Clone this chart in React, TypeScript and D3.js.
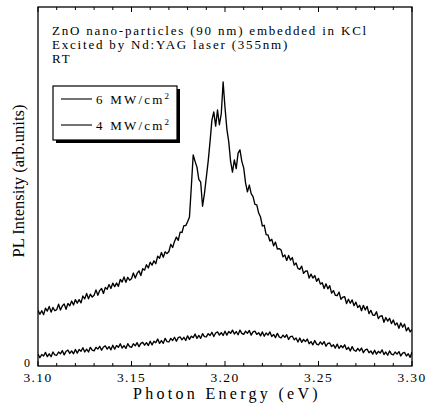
import React from 'react';
import * as d3 from 'd3';

// PL intensity (arb. units) sampled every 0.001 eV from 3.100 eV to 3.300 eV
const E_START = 3.1;
const E_STEP = 0.001;

const pl6MW = [
  15.5, 14.4, 15.4, 14.3, 16.1, 15.3, 16.6, 15.0, 16.3, 15.4,
  15.7, 17.2, 15.6, 16.7, 17.3, 15.8, 17.4, 16.8, 18.1, 17.0,
  18.5, 17.5, 18.5, 17.6, 19.5, 18.7, 20.2, 18.7, 20.0, 19.2,
  19.7, 21.2, 19.7, 21.0, 21.6, 20.2, 21.9, 21.4, 22.7, 21.6,
  23.1, 22.1, 23.1, 22.2, 24.1, 23.4, 24.8, 23.3, 24.7, 23.9,
  24.3, 25.9, 24.5, 25.8, 26.5, 25.2, 27.1, 26.7, 28.2, 27.3,
  28.9, 28.1, 29.3, 28.5, 30.6, 30.0, 31.6, 30.3, 31.8, 31.3,
  31.9, 33.9, 33.0, 34.7, 35.9, 35.0, 37.3, 37.2, 39.1, 39.1,
  40.2, 41.5, 50.0, 58.8, 57.0, 55.4, 52.0, 51.2, 44.5, 48.0,
  52.5, 57.0, 62.5, 68.5, 70.8, 66.8, 71.3, 67.2, 70.2, 79.1,
  72.0, 66.0, 62.5, 57.0, 54.0, 57.4, 55.0, 59.3, 60.2, 57.0,
  55.2, 51.0, 48.5, 50.4, 48.0, 47.2, 45.0, 44.9, 42.6, 41.5,
  39.0, 39.2, 36.6, 36.5, 34.8, 35.3, 33.5, 34.5, 32.6, 32.7,
  32.3, 30.4, 30.9, 29.4, 30.8, 29.5, 30.2, 28.1, 28.7, 27.2,
  26.9, 27.8, 25.8, 26.4, 26.5, 24.5, 25.6, 24.5, 25.2, 23.6,
  24.4, 22.8, 23.2, 21.6, 22.9, 21.5, 22.4, 20.3, 21.0, 19.7,
  19.6, 20.6, 18.6, 19.2, 19.3, 17.4, 18.6, 17.5, 18.4, 16.8,
  17.8, 16.3, 16.9, 15.4, 16.9, 15.6, 16.6, 14.6, 15.5, 14.2,
  14.1, 15.1, 13.2, 13.9, 14.0, 12.2, 13.5, 12.5, 13.3, 11.8,
  12.8, 11.4, 12.0, 10.5, 12.0, 10.8, 11.7, 9.8, 10.7, 9.5, 10.2,
];

const pl4MW = [
  3.3, 2.3, 3.2, 2.8, 3.8, 2.6, 3.4, 2.6, 3.9, 3.1,
  3.0, 3.9, 3.4, 4.3, 3.1, 4.1, 4.4, 3.5, 4.2, 3.4,
  4.6, 3.6, 4.6, 4.1, 5.1, 3.9, 4.7, 3.9, 5.2, 4.4,
  4.2, 5.2, 4.7, 5.5, 4.4, 5.3, 5.6, 4.7, 5.4, 4.5,
  5.8, 4.7, 5.7, 5.2, 6.2, 5.0, 5.7, 4.9, 6.2, 5.4,
  5.2, 6.2, 5.6, 6.5, 5.4, 6.3, 6.6, 5.8, 6.5, 5.7,
  6.9, 5.9, 6.9, 6.5, 7.5, 6.3, 7.1, 6.3, 7.7, 6.8,
  6.7, 7.7, 7.1, 8.0, 6.9, 7.9, 8.1, 7.3, 8.0, 7.1,
  8.4, 7.4, 8.3, 7.9, 8.9, 7.7, 8.5, 7.7, 9.0, 8.2,
  8.1, 9.0, 8.5, 9.4, 8.2, 9.2, 9.5, 8.6, 9.3, 8.5,
  9.7, 8.6, 9.6, 9.1, 10.0, 8.9, 9.6, 8.7, 10.0, 9.1,
  8.8, 9.7, 9.1, 9.9, 8.6, 9.5, 9.7, 8.8, 9.3, 8.4,
  9.5, 8.3, 9.2, 8.6, 9.5, 8.2, 8.8, 7.9, 9.1, 8.1,
  7.8, 8.6, 8.0, 8.7, 7.4, 8.2, 8.3, 7.3, 7.8, 6.7,
  7.8, 6.6, 7.4, 6.8, 7.5, 6.2, 6.8, 5.9, 7.1, 6.1,
  5.9, 6.7, 6.0, 6.8, 5.5, 6.3, 6.4, 5.4, 5.9, 5.0,
  6.1, 4.9, 5.7, 5.1, 5.9, 4.6, 5.2, 4.2, 5.4, 4.4,
  4.1, 4.9, 4.2, 5.0, 3.7, 4.5, 4.7, 3.7, 4.2, 3.3,
  4.4, 3.3, 4.1, 3.6, 4.5, 3.2, 3.9, 3.0, 4.2, 3.3,
  3.1, 3.9, 3.3, 4.0, 2.8, 3.6, 3.8, 2.8, 3.4, 2.4, 3.9,
];

const xTickValues = [3.1, 3.15, 3.2, 3.25, 3.3];
const xTickLabels = ['3.10', '3.15', '3.20', '3.25', '3.30'];
const yTickLabels = ['0'];
const annotationLines = [
  'ZnO nano-particles (90 nm) embedded in KCl',
  'Excited by Nd:YAG laser (355nm)',
  'RT',
];
const legendLabels = ['6 MW/cm', '4 MW/cm'];
const xTitle = 'Photon Energy (eV)';
const yTitle = 'PL Intensity (arb.units)';

const SERIF = "'Liberation Serif', 'Times New Roman', Times, serif";

export default function App() {
  const W = 426;
  const H = 407;
  const L = 38;
  const R = 412;
  const T = 7;
  const B = 366;

  const x = d3.scaleLinear().domain([3.1, 3.3]).range([L, R]);
  const y = d3.scaleLinear().domain([0, 100]).range([B, T]);

  const line = d3
    .line<number>()
    .x((_, i) => x(E_START + i * E_STEP))
    .y((d) => y(d));

  const minorTicks = x.ticks(20);
  const ts = { fontFamily: SERIF };

  return (
    <svg
      width={W}
      height={H}
      style={{ position: 'absolute', left: 0, top: 0, background: '#fff' }}
    >
      <rect x={0} y={0} width={W} height={H} fill="#fff" />
      <defs>
        <clipPath id="clip">
          <rect x={L} y={T} width={R - L} height={B - T} />
        </clipPath>
      </defs>

      {/* data */}
      <g clipPath="url(#clip)">
        <path d={line(pl6MW) || ''} fill="none" stroke="#000" strokeWidth={1.35} strokeLinejoin="round" />
        <path d={line(pl4MW) || ''} fill="none" stroke="#000" strokeWidth={1.35} strokeLinejoin="round" />
      </g>

      {/* frame */}
      <rect x={L} y={T} width={R - L} height={B - T} fill="none" stroke="#000" strokeWidth={1.3} />

      {/* ticks top & bottom (inward) */}
      {minorTicks.map((t, i) => {
        const major = xTickValues.some((v) => Math.abs(v - t) < 1e-6);
        const len = major ? 5 : 3;
        return (
          <g key={i}>
            <line x1={x(t)} x2={x(t)} y1={T} y2={T + len} stroke="#000" strokeWidth={1} />
            <line x1={x(t)} x2={x(t)} y1={B} y2={B - len} stroke="#000" strokeWidth={1} />
          </g>
        );
      })}

      {/* x tick labels */}
      {xTickValues.map((v, i) => (
        <text
          key={i}
          x={x(v)}
          y={382}
          textAnchor="middle"
          fontSize={13.5}
          letterSpacing={1.4}
          style={ts}
        >
          {xTickLabels[i]}
        </text>
      ))}

      {/* y tick label */}
      <text x={27} y={367} textAnchor="middle" fontSize={12} style={ts}>
        {yTickLabels[0]}
      </text>

      {/* axis titles */}
      <text x={(L + R) / 2 + 2} y={399} textAnchor="middle" fontSize={16} letterSpacing={3.3} style={ts}>
        {xTitle}
      </text>
      <text
        transform={`translate(24, 181) rotate(-90)`}
        textAnchor="middle"
        fontSize={16.5}
        style={ts}
      >
        {yTitle}
      </text>

      {/* annotation */}
      {annotationLines.map((s, i) => (
        <text key={i} x={52} y={35 + i * 14} fontSize={13} letterSpacing={1.8} style={ts}>
          {s}
        </text>
      ))}

      {/* legend */}
      <rect x={56} y={89} width={124} height={54} fill="#000" />
      <rect x={53} y={86} width={124} height={54} fill="#fff" stroke="#000" strokeWidth={1.2} />
      {legendLabels.map((s, i) => {
        const ly = 99 + i * 26;
        return (
          <g key={i}>
            <line x1={61} x2={92} y1={ly} y2={ly} stroke="#000" strokeWidth={1.1} />
            <text x={96} y={ly + 4.5} fontSize={13} letterSpacing={2.2} style={ts}>
              {s}
              <tspan fontSize={9} dy={-5}>
                2
              </tspan>
            </text>
          </g>
        );
      })}
    </svg>
  );
}
